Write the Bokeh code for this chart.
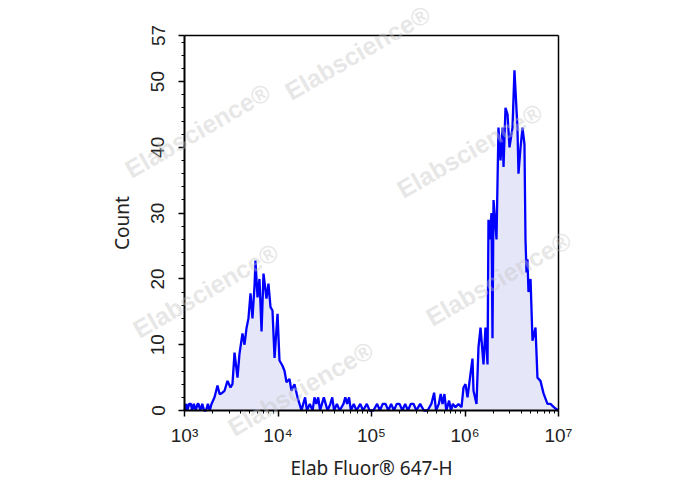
import math
from bokeh.plotting import figure
from bokeh.models import FixedTicker, Label, LinearAxis, LogAxis
from bokeh.embed import file_html
from bokeh.resources import INLINE

# ---------------- data ----------------
# log10 of fluorescence intensity for each histogram vertex
log_fl = [
    3.00, 3.02, 3.03, 3.05, 3.07, 3.08, 3.10, 3.12, 3.14, 3.15, 3.17, 3.19, 3.21, 3.23, 3.25, 3.27,
    3.289, 3.321, 3.353, 3.375, 3.396, 3.428, 3.460, 3.492, 3.513, 3.535, 3.567, 3.588, 3.620, 3.642,
    3.663, 3.684, 3.706, 3.727, 3.749, 3.759, 3.781, 3.802, 3.824, 3.845, 3.877, 3.898, 3.920, 3.941,
    3.963, 3.995, 4.016, 4.048, 4.070, 4.091, 4.123, 4.144, 4.176, 4.209, 4.230, 4.251,
    4.27, 4.29, 4.31, 4.34, 4.37, 4.39, 4.41, 4.43, 4.45, 4.47, 4.49, 4.51, 4.53, 4.56, 4.58, 4.60,
    4.63, 4.66, 4.70, 4.72, 4.74, 4.76, 4.78, 4.81, 4.84, 4.88, 4.91, 4.95, 4.98, 5.02, 5.06, 5.09,
    5.12, 5.15, 5.18, 5.21, 5.24, 5.27, 5.30, 5.33, 5.36, 5.39, 5.42, 5.45, 5.48, 5.52, 5.56, 5.60,
    5.64, 5.67, 5.69, 5.72, 5.74, 5.76, 5.78, 5.80, 5.83, 5.85, 5.87,
    5.898, 5.930, 5.963, 5.984, 6.005, 6.027, 6.059, 6.080, 6.091, 6.123, 6.144, 6.166, 6.198, 6.219,
    6.241, 6.251, 6.262, 6.283, 6.294, 6.305, 6.337, 6.358, 6.380, 6.401, 6.412, 6.433, 6.455, 6.476,
    6.508, 6.529, 6.561, 6.572, 6.594, 6.615, 6.636, 6.647, 6.658, 6.668, 6.679, 6.701, 6.722, 6.754,
    6.775, 6.807, 6.840, 6.882, 6.914, 6.936, 6.968, 7.00,
]
# event count in each bin
counts = [
    0, 1, 0, 1, 1, 0, 1, 0, 1, 1, 0, 1, 0, 0, 1, 0,
    1, 2, 3.8, 2.5, 2.6, 3, 4.5, 3.5, 4, 8.8, 5, 8.6, 11.7, 10,
    12.5, 14, 17.8, 14, 19, 22.8, 17.2, 20, 12, 20.8, 17, 19.3, 15.7, 15.2,
    8, 14.7, 7.6, 6.8, 6, 4.3, 4.8, 3, 4, 2, 1, 0,
    1, 2, 0, 1, 0, 2, 1, 2, 0, 1, 2, 1, 0, 1, 2, 0,
    1, 0, 1, 2, 1, 2, 0, 1, 0, 1, 0, 1, 0, 0, 1, 0,
    1, 1, 0, 1, 0, 1, 1, 0, 1, 0, 1, 1, 0, 1, 0, 0,
    1, 2.7, 0, 1, 2.5, 1, 2.5, 0, 1.5, 0, 1,
    0.5, 1, 0.5, 3.5, 4, 2, 5.6, 7.9, 3, 1, 9.6, 12.6, 7, 12.6,
    7, 29, 26, 30, 11, 32, 26, 43, 38, 43, 37, 46, 45, 40,
    43, 51.7, 43, 36, 40, 43, 40.5, 26, 21, 23, 18, 20, 10.6, 12.6,
    5, 4.5, 2.6, 1, 1, 0.7, 0.3, 0,
]
fluor = [10 ** e for e in log_fl]

y_ticks = [0, 10, 20, 30, 40, 50, 57]
x_ticks = [1e3, 1e4, 1e5, 1e6, 1e7]
x_tick_labels = ["10³", "10⁴", "10⁵", "10⁶", "10⁷"]
x_lim = (1e3, 1e7)
y_lim = (0, 57)

# ---------------- layout geometry (canvas pixels) ----------------
W, H = 672, 482
BOX_L, BOX_R, BOX_T, BOX_B = 184, 558, 35, 410
px_dec = (BOX_R - BOX_L) / (math.log10(x_lim[1]) - math.log10(x_lim[0]))
px_cnt = (BOX_B - BOX_T) / (y_lim[1] - y_lim[0])
x_range = (10 ** (math.log10(x_lim[0]) - BOX_L / px_dec),
           10 ** (math.log10(x_lim[1]) + (W - BOX_R) / px_dec))
y_range = (y_lim[0] - (H - BOX_B) / px_cnt, y_lim[1] + BOX_T / px_cnt)

p = figure(width=W, height=H, x_axis_type="log", x_range=x_range, y_range=y_range,
           output_backend="svg", toolbar_location=None, min_border=0,
           min_border_left=0, min_border_right=0, min_border_top=0, min_border_bottom=0)
p.grid.visible = False
p.background_fill_color = "white"
p.border_fill_color = "white"
p.outline_line_color = None

p.varea(x=fluor, y1=[0] * len(counts), y2=counts, fill_color="#e6e6f9", fill_alpha=1)
p.line(x=fluor, y=counts, line_color="#0000ff", line_width=2.3)

# watermarks (canvas-pixel centres converted to data space)
wm_px = [(357, 52), (197, 130), (469, 150), (205, 290), (498, 278), (300, 388)]
for (wx, wy) in wm_px:
    dx = 10 ** (math.log10(x_lim[0]) + (wx - BOX_L) / px_dec)
    dy = (BOX_B - wy) / px_cnt
    p.add_layout(Label(x=dx, y=dy, text="Elabscience®", angle=math.radians(30),
                       text_align="center", text_baseline="middle",
                       text_font="Liberation Sans", text_font_style="bold",
                       text_font_size="25px", text_color="#c4c4c4", text_alpha=0.42))

# axes fixed at the plot box edges
minor_x = [m * 10 ** d for d in range(3, 7) for m in range(2, 10)]
minor_y = [v for v in range(2, 57, 2) if v % 10 != 0]
xa = p.xaxis[0]
ya = p.yaxis[0]
xa.ticker = FixedTicker(ticks=x_ticks, minor_ticks=minor_x)
xa.major_label_overrides = {t: l for t, l in zip(x_ticks, x_tick_labels)}
ya.ticker = FixedTicker(ticks=y_ticks, minor_ticks=minor_y)
xa.fixed_location = y_lim[0]
ya.fixed_location = x_lim[0]
xa.bounds = x_lim
ya.bounds = y_lim

top = LogAxis(ticker=FixedTicker(ticks=[]), fixed_location=y_lim[1], bounds=x_lim)
right = LinearAxis(ticker=FixedTicker(ticks=[]), fixed_location=x_lim[1], bounds=y_lim)
for ax in (top, right):
    ax.major_label_text_font_size = "0px"
    ax.major_tick_line_color = None
    ax.minor_tick_line_color = None
    ax.axis_line_width = 1.5
    ax.axis_line_color = "black"
p.add_layout(top, "above")
p.add_layout(right, "right")

for ax in (xa, ya):
    ax.axis_line_width = 2
    ax.axis_line_color = "black"
    ax.major_tick_line_color = "black"
    ax.minor_tick_line_color = "black"
    ax.major_tick_line_width = 1.5
    ax.minor_tick_line_width = 1
    ax.major_tick_out = 6
    ax.major_tick_in = 0
    ax.minor_tick_out = 3
    ax.minor_tick_in = 0
    ax.major_label_text_font = "Liberation Sans"
    ax.major_label_text_font_size = "19px"
    ax.major_label_text_color = "#222222"
    ax.axis_label_text_font = "Noto Sans"
    ax.axis_label_text_font_size = "19px"
    ax.axis_label_text_font_style = "normal"
    ax.axis_label_text_color = "#222222"

ya.major_label_orientation = "vertical"
ya.major_label_standoff = 14
xa.major_label_standoff = 8
xa.axis_label = "Elab Fluor® 647-H"
ya.axis_label = "Count"
xa.axis_label_standoff = 6
ya.axis_label_standoff = 14

open("out.html", "w").write(file_html(p, INLINE))
